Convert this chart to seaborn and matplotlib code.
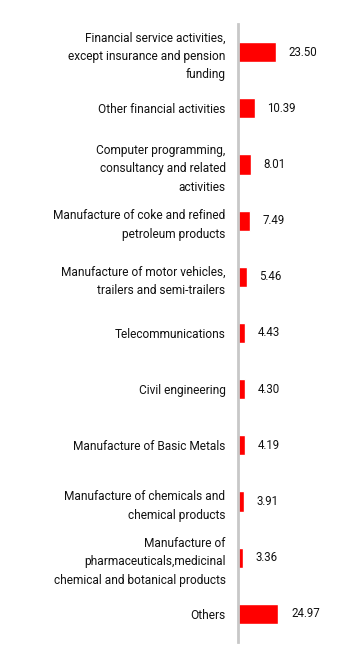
import matplotlib
matplotlib.use("Agg")
import matplotlib.pyplot as plt
import seaborn as sns

# sectors and their shares (%)
sectors = [
    "Financial service activities,\nexcept insurance and pension\nfunding",
    "Other financial activities",
    "Computer programming,\nconsultancy and related\nactivities",
    "Manufacture of coke and refined\npetroleum products",
    "Manufacture of motor vehicles,\ntrailers and semi-trailers",
    "Telecommunications",
    "Civil engineering",
    "Manufacture of Basic Metals",
    "Manufacture of chemicals and\nchemical products",
    "Manufacture of\npharmaceuticals,medicinal\nchemical and botanical products",
    "Others",
]
shares = [23.50, 10.39, 8.01, 7.49, 5.46, 4.43, 4.30, 4.19, 3.91, 3.36, 24.97]

sns.set_style("white")
plt.rcParams["font.family"] = ["Roboto", "DejaVu Sans"]

fig = plt.figure(figsize=(3.64, 6.62), dpi=100)
ax = fig.add_axes([238 / 364, 20 / 662, 126 / 364, 618 / 662])

sns.barplot(x=shares, y=sectors, orient="h", color="#ff0000", width=0.36,
            saturation=1, ax=ax)

ax.bar_label(ax.containers[0], labels=[f"{v:.2f}" for v in shares],
             padding=9, fontsize=8.3, color="#111111")

ax.set_xlim(0, 126 / 1.62)
ax.set_ylim(10.5, -0.5)
ax.set_xticks([])
ax.set_xlabel("")
ax.set_ylabel("")
ax.tick_params(axis="y", length=0, pad=9, labelsize=8.6, labelcolor="#111111")
for lbl in ax.get_yticklabels():
    lbl.set_multialignment("right")
    lbl.set_linespacing(1.55)

for s in ["top", "right", "bottom"]:
    ax.spines[s].set_visible(False)
ax.spines["left"].set_color("#c8c8c8")
ax.spines["left"].set_linewidth(2)

fig.savefig("out.png", dpi=100)
